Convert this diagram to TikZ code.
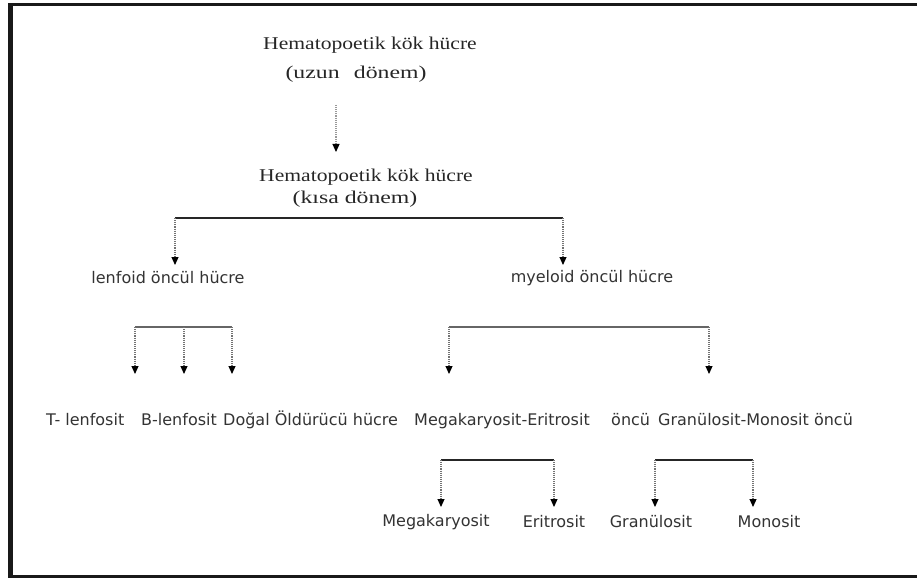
\documentclass[tikz,border=0pt]{standalone}
\usepackage{fontspec}
\setmainfont{Liberation Serif}
\newfontfamily\rowfont{DejaVu Sans}
\usetikzlibrary{arrows.meta}
\begin{document}
\begin{tikzpicture}[x=1pt,y=-1pt,
  title/.style={font=\fontsize{18}{20}\selectfont, inner sep=0pt, text=black!85},
  lab/.style={font=\rowfont\fontsize{16}{18}\selectfont, inner sep=0pt, text=black!80},
  hline/.style={line width=1.4pt, draw=black!85},
  vline/.style={line width=1.1pt, draw=black!55, densely dotted},
  arr/.style={vline, -{Triangle[width=7pt,length=8pt,color=black,fill=black]}},
  frame/.style={fill=black!90}
]
\useasboundingbox (0,0) rectangle (917,580);
% frame
\fill[frame] (8,3) rectangle (13,578);
\fill[frame] (8,3) rectangle (917,6);
\fill[frame] (8,575) rectangle (917,578);

% titles
\node[title] (hsca) at (370,45) {\scalebox{1.2}[1]{Hematopoetik kök hücre}};
\node[title] (hscb) at (356,74) {\scalebox{1.32}[1]{(uzun\hspace{0.6em}dönem)}};
\node[title] (hstc) at (366,177) {\scalebox{1.2}[1]{Hematopoetik kök hücre}};
\node[title] (hstd) at (355,199) {\scalebox{1.32}[1]{(kısa dönem)}};

\coordinate (a1s) at (336,105);
\coordinate (a1e) at (336,152);
\draw[arr, draw=black!40] (a1s) -- (a1e);

% level 2
\node[lab] (lenf) at (168,278) {lenfoid öncül hücre};
\node[lab] (myel) at (592,278) {myeloid öncül hücre};
\coordinate (b1l) at (175,218);
\coordinate (b1r) at (563,218);
\coordinate (b1lt) at (175,265);
\coordinate (b1rt) at (563,265);
\draw[hline] (b1l) -- (b1r);
\draw[arr] (b1l) -- (b1lt);
\draw[arr] (b1r) -- (b1rt);

% level 3 brackets
\coordinate (c1a) at (135,327);
\coordinate (c1b) at (184,327);
\coordinate (c1c) at (232,327);
\coordinate (c1at) at (135,374);
\coordinate (c1bt) at (184,374);
\coordinate (c1ct) at (232,374);
\draw[hline, draw=black!60, line width=1.1pt] (c1a) -- (c1c);
\draw[arr] (c1a) -- (c1at);
\draw[arr] (c1b) -- (c1bt);
\draw[arr] (c1c) -- (c1ct);

\coordinate (c2a) at (449,327);
\coordinate (c2b) at (709,327);
\coordinate (c2at) at (449,374);
\coordinate (c2bt) at (709,374);
\draw[hline, draw=black!60, line width=1.1pt] (c2a) -- (c2b);
\draw[arr] (c2a) -- (c2at);
\draw[arr] (c2b) -- (c2bt);

% row
\node[lab, anchor=base west] (tl) at (46,425) {T- lenfosit};
\node[lab, anchor=base west] (bl) at (141,425) {B-lenfosit};
\node[lab, anchor=base west] (nk) at (223,425) {Doğal Öldürücü hücre};
\node[lab, anchor=base west] (me) at (414,425) {Megakaryosit-Eritrosit};
\node[lab, anchor=base west] (mo) at (611,425) {öncü};
\node[lab, anchor=base west] (gm) at (658,425) {Granülosit-Monosit öncü};

% level 4 brackets
\coordinate (d1a) at (441,460);
\coordinate (d1b) at (554,460);
\coordinate (d1at) at (441,507);
\coordinate (d1bt) at (554,507);
\draw[hline, line width=1.8pt] (d1a) -- (d1b);
\draw[arr] (d1a) -- (d1at);
\draw[arr] (d1b) -- (d1bt);

\coordinate (d2a) at (655,460);
\coordinate (d2b) at (753,460);
\coordinate (d2at) at (655,507);
\coordinate (d2bt) at (753,507);
\draw[hline, line width=1.8pt] (d2a) -- (d2b);
\draw[arr] (d2a) -- (d2at);
\draw[arr] (d2b) -- (d2bt);

\node[lab] (mk) at (436,522) {Megakaryosit};
\node[lab] (er) at (554,522) {Eritrosit};
\node[lab] (gr) at (651,522) {Granülosit};
\node[lab] (mn) at (769,522) {Monosit};
\end{tikzpicture}
\end{document}
